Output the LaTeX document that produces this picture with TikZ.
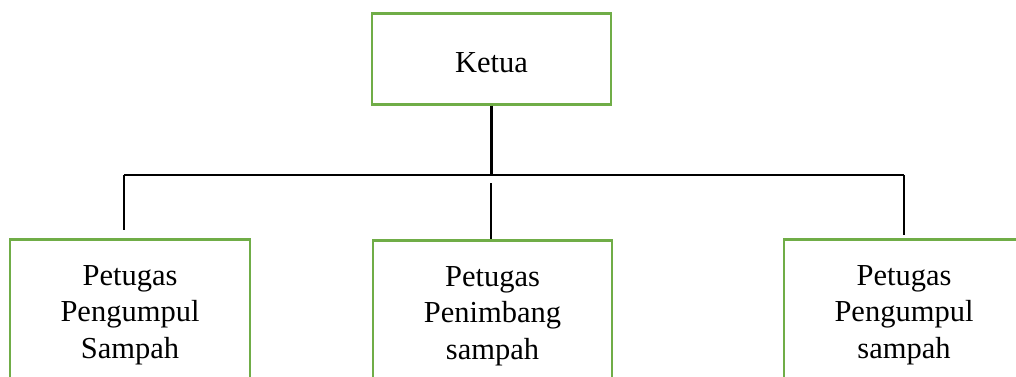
\documentclass[tikz,border=0pt]{standalone}
\usepackage{fontspec}
\setmainfont{Liberation Serif}
\usepackage{tikz}

\begin{document}
\begin{tikzpicture}[x=1pt,y=-1pt,
  jobBox/.style={draw=boxColor, line width=2.6pt, align=center, inner sep=0pt,
    font=\fontsize{30.5}{36.5}\selectfont, minimum width=240, minimum height=151, anchor=north},
  linkLine/.style={draw=black, line width=2.6pt}]
\definecolor{boxColor}{RGB}{112,173,71}
\useasboundingbox (0,0) rectangle (1016,376);
\clip (0,0) rectangle (1016,376);
\node[jobBox, minimum width=239, minimum height=91, text height=28pt, text depth=0pt] (ketua) at (491.5,12) {Ketua};
\node[jobBox] (pengumpulA) at (130,238) {Petugas\\Pengumpul\\Sampah};
\node[jobBox, minimum width=239] (penimbang) at (492.5,239) {Petugas\\Penimbang\\sampah};
\node[jobBox] (pengumpulB) at (904,238) {Petugas\\Pengumpul\\sampah};
\coordinate (barL) at (124,175);
\coordinate (barR) at (904,175);
\coordinate (tipA) at (124,230);
\coordinate (tipB) at (904,235);
\coordinate (midTop) at (491,183);
\draw[linkLine] (ketua.south) -- (ketua.south |- barL);
\draw[linkLine] (barL) -- (barR);
\draw[linkLine] (barL) -- (tipA);
\draw[linkLine] (barR) -- (tipB);
\draw[linkLine] (midTop) -- (midTop |- penimbang.north);
\end{tikzpicture}
\end{document}
